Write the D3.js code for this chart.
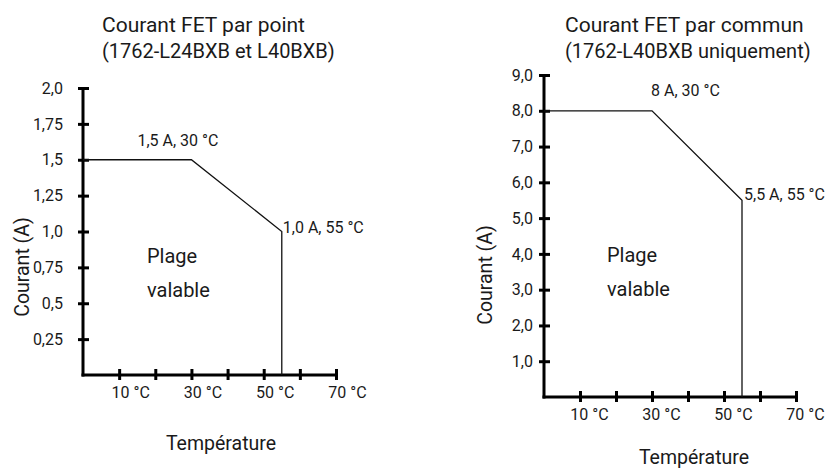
<!DOCTYPE html>
<html lang="fr">
<head>
<meta charset="UTF-8">
<title>Courant FET</title>
<script src="https://d3js.org/d3.v7.min.js"></script>
<style>
  body { margin: 0; background: #fff; }
  text { font-family: Roboto, sans-serif; font-weight: 400; fill: #1a1a1a; }
</style>
</head>
<body>
<svg width="826" height="468"></svg>
<script>
// temperatures (deg C) on the x axis
const xTicks = [10, 20, 30, 40, 50, 60, 70];
const xTickLabels = ["10 °C", "", "30 °C", "", "50 °C", "", "70 °C"];

// left chart : per point
const leftYTicks = [0.25, 0.5, 0.75, 1.0, 1.25, 1.5, 1.75, 2.0];
const leftYLabels = ["0,25", "0,5", "0,75", "1,0", "1,25", "1,5", "1,75", "2,0"];
const leftCurve = [[0, 1.5], [30, 1.5], [55, 1.0], [55, 0]];
const leftNotes = [["1,5 A, 30 °C", 30, 1.5], ["1,0 A, 55 °C", 55, 1.0]];
const leftTitle = ["Courant FET par point", "(1762-L24BXB et L40BXB)"];

// right chart : per common
const rightYTicks = [1, 2, 3, 4, 5, 6, 7, 8, 9];
const rightYLabels = ["1,0", "2,0", "3,0", "4,0", "5,0", "6,0", "7,0", "8,0", "9,0"];
const rightCurve = [[0, 8], [30, 8], [55, 5.5], [55, 0]];
const rightNotes = [["8 A, 30 °C", 30, 8], ["5,5 A, 55 °C", 55, 5.5]];
const rightTitle = ["Courant FET par commun", "(1762-L40BXB uniquement)"];

const svg = d3.select("svg");

function drawPanel(o) {
    const x = d3.scaleLinear().domain([0, 70]).range(o.xRange);
    const y = d3.scaleLinear().domain([0, o.yMax]).range(o.yRange);
    const g = svg.append("g");

    // title
    g.append("text").attr("x", o.titleX).attr("y", 32).attr("font-size", 21).text(o.title[0]);
    g.append("text").attr("x", o.titleX).attr("y", 58).attr("font-size", 20).text(o.title[1]);

    // y axis
    const ya = g.append("g")
        .attr("transform", `translate(${o.xRange[0]},0)`)
        .call(d3.axisLeft(y).tickValues(o.yTicks).tickSize(0)
            .tickFormat((d, i) => o.yLabels[i]));
    ya.attr("font-family", null);
    ya.select(".domain").remove();
    ya.selectAll(".tick line").attr("x1", -5).attr("x2", 6)
        .attr("stroke", "#000").attr("stroke-width", 3);
    ya.selectAll(".tick text").attr("x", -o.yLabelGap).attr("font-size", 16)
        .attr("fill", "#1a1a1a");
    g.append("line")
        .attr("x1", x(0)).attr("x2", x(0))
        .attr("y1", y(0) + 1.5).attr("y2", y(o.yMax))
        .attr("stroke", "#000").attr("stroke-width", 3);

    // x axis
    const xa = g.append("g")
        .attr("transform", `translate(0,${o.yRange[0]})`)
        .call(d3.axisBottom(x).tickValues(xTicks).tickSize(0)
            .tickFormat((d, i) => xTickLabels[i]));
    xa.attr("font-family", null);
    xa.select(".domain").remove();
    xa.selectAll(".tick line").attr("y1", -6).attr("y2", 5)
        .attr("stroke", "#000").attr("stroke-width", 3);
    xa.selectAll(".tick text").attr("y", 0).attr("dy", 0)
        .attr("transform", `translate(${o.xLabelShift},${o.xLabelBase})`)
        .attr("font-size", 16).attr("fill", "#1a1a1a");
    g.append("line")
        .attr("x1", x(0) - 1.5).attr("x2", x(70))
        .attr("y1", y(0)).attr("y2", y(0))
        .attr("stroke", "#000").attr("stroke-width", 3);

    // derating curve
    g.append("path")
        .datum(o.curve)
        .attr("d", d3.line().x(d => x(d[0])).y(d => y(d[1])))
        .attr("fill", "none").attr("stroke", "#111").attr("stroke-width", 1.3);

    // point notes
    o.notes.forEach((n, i) => {
        g.append("text")
            .attr("x", x(n[1]) + o.noteOffsets[i][0])
            .attr("y", y(n[2]) + o.noteOffsets[i][1])
            .attr("font-size", 16).text(n[0]);
    });

    // valid range
    g.append("text").attr("x", x(o.plage[0])).attr("y", y(o.plage[1]))
        .attr("font-size", 20).text("Plage");
    g.append("text").attr("x", x(o.plage[0])).attr("y", y(o.plage[1]) + 34)
        .attr("font-size", 20).text("valable");

    // axis titles
    g.append("text")
        .attr("transform", `translate(${o.yTitle[0]},${o.yTitle[1]}) rotate(-90)`)
        .attr("text-anchor", "middle").attr("dy", "0.35em")
        .attr("font-size", 19.5).text("Courant (A)");
    g.append("text")
        .attr("x", o.xTitle[0]).attr("y", o.xTitle[1])
        .attr("text-anchor", "middle")
        .attr("font-size", 19.5).text("Température");
}

drawPanel({
    xRange: [83, 336], yRange: [375, 88], yMax: 2,
    yTicks: leftYTicks, yLabels: leftYLabels, yLabelGap: 20,
    xLabelShift: 11, xLabelBase: 23,
    curve: leftCurve, notes: leftNotes,
    noteOffsets: [[-54, -14], [1, 1]],
    plage: [17.7, 0.78],
    title: leftTitle, titleX: 102,
    yTitle: [22, 267], xTitle: [221, 450]
});

drawPanel({
    xRange: [544, 796], yRange: [397, 75], yMax: 9,
    yTicks: rightYTicks, yLabels: rightYLabels, yLabelGap: 11,
    xLabelShift: 9, xLabelBase: 23,
    curve: rightCurve, notes: rightNotes,
    noteOffsets: [[-1, -15], [2, 0]],
    plage: [17.5, 3.77],
    title: rightTitle, titleX: 565,
    yTitle: [485, 275], xTitle: [694, 464]
});
</script>
</body>
</html>
